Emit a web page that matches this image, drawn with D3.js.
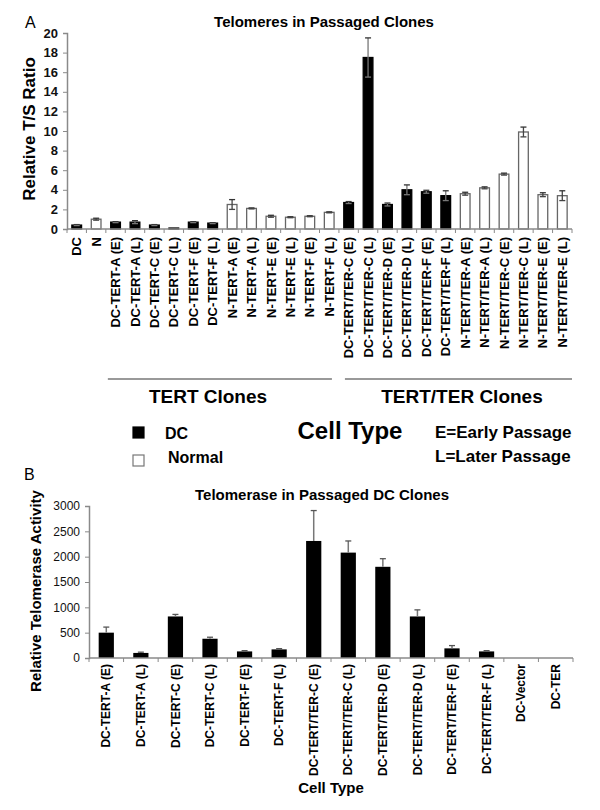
<!DOCTYPE html>
<html>
<head>
<meta charset="utf-8">
<script src="https://cdn.jsdelivr.net/npm/d3@7"></script>
<style>
  body { margin: 0; background: #fff; }
  svg { font-family: "Liberation Sans", Arial, sans-serif; display: block; }
</style>
</head>
<body>
<svg id="chart" width="600" height="810"></svg>
<script>
// panel A data - telomere T/S ratio
var catsA = ['DC', 'N', 'DC-TERT-A (E)', 'DC-TERT-A (L)', 'DC-TERT-C (E)', 'DC-TERT-C (L)',
    'DC-TERT-F (E)', 'DC-TERT-F (L)', 'N-TERT-A (E)', 'N-TERT-A (L)', 'N-TERT-E (E)', 'N-TERT-E (L)',
    'N-TERT-F (E)', 'N-TERT-F (L)', 'DC-TERT/TER-C (E)', 'DC-TERT/TER-C (L)', 'DC-TERT/TER-D (E)',
    'DC-TERT/TER-D (L)', 'DC-TERT/TER-F (E)', 'DC-TERT/TER-F (L)', 'N-TERT/TER-A (E)', 'N-TERT/TER-A (L)',
    'N-TERT/TER-C (E)', 'N-TERT/TER-C (L)', 'N-TERT/TER-E (E)', 'N-TERT/TER-E (L)'];
var typeA = ['DC', 'N', 'DC', 'DC', 'DC', 'DC', 'DC', 'DC', 'N', 'N', 'N', 'N', 'N', 'N',
    'DC', 'DC', 'DC', 'DC', 'DC', 'DC', 'N', 'N', 'N', 'N', 'N', 'N'];
var valsA = [0.4, 1.0, 0.7, 0.7, 0.4, 0.1, 0.7, 0.6, 2.5, 2.1, 1.3, 1.2, 1.3, 1.7,
    2.7, 17.5, 2.5, 4.0, 3.8, 3.4, 3.6, 4.2, 5.6, 9.9, 3.5, 3.4];
var errA = [0.05, 0.1, 0.05, 0.15, 0.05, 0.02, 0.05, 0.05, 0.5, 0.05, 0.1, 0.05, 0.05, 0.05,
    0.1, 2.0, 0.15, 0.5, 0.15, 0.5, 0.15, 0.1, 0.1, 0.5, 0.2, 0.5];
var ticksA = [0, 2, 4, 6, 8, 10, 12, 14, 16, 18, 20];
var groupsA = [
    {name: 'TERT Clones', from: 'DC-TERT-A (E)', to: 'N-TERT-F (L)'},
    {name: 'TERT/TER Clones', from: 'DC-TERT/TER-C (E)', to: 'N-TERT/TER-E (L)'}
];

// panel B data - telomerase activity
var catsB = ['DC-TERT-A (E)', 'DC-TERT-A (L)', 'DC-TERT-C (E)', 'DC-TERT-C (L)', 'DC-TERT-F (E)',
    'DC-TERT-F (L)', 'DC-TERT/TER-C (E)', 'DC-TERT/TER-C (L)', 'DC-TERT/TER-D (E)', 'DC-TERT/TER-D (L)',
    'DC-TERT/TER-F (E)', 'DC-TERT/TER-F (L)', 'DC-Vector', 'DC-TER'];
var valsB = [500, 100, 820, 380, 130, 170, 2310, 2080, 1800, 820, 190, 130, 0, 0];
var errB = [110, 15, 40, 30, 15, 15, 600, 230, 160, 130, 55, 15, 0, 0];
var ticksB = [0, 500, 1000, 1500, 2000, 2500, 3000];

var svg = d3.select('#chart');
var axisColor = '#8a8a8a';

// ---------- Panel A ----------
var a = {left: 67, right: 572, top: 33, bottom: 229};
var xA = d3.scaleBand().domain(catsA).range([a.left, a.right]).paddingInner(0.5).paddingOuter(0.25);
var yA = d3.scaleLinear().domain([0, 20]).range([a.bottom, a.top]);

var dataA = catsA.map(function(c, i) { return {cat: c, type: typeA[i], v: valsA[i], e: errA[i]}; });

svg.append('text')
    .attr('x', 25).attr('y', 28)
    .style('font-size', '16px')
    .text('A');

svg.append('text')
    .attr('x', 324).attr('y', 27)
    .attr('text-anchor', 'middle')
    .style('font-size', '15px').style('font-weight', 'bold')
    .text('Telomeres in Passaged Clones');

svg.append('text')
    .attr('transform', 'translate(35,' + ((a.top + a.bottom) / 2 - 2) + ')rotate(-90)')
    .attr('text-anchor', 'middle')
    .style('font-size', '17px').style('font-weight', 'bold')
    .text('Relative T/S Ratio');

// y axis
var gyA = svg.append('g')
    .attr('transform', 'translate(' + a.left + ',0)')
    .call(d3.axisLeft(yA).tickValues(ticksA).tickSize(4).tickPadding(5));
gyA.select('.domain').attr('stroke', axisColor).attr('stroke-width', 1.5);
gyA.selectAll('.tick line').attr('stroke', axisColor);
gyA.selectAll('.tick text')
    .attr('fill', '#111')
    .style('font-size', '13px').style('font-weight', 'bold').style('font-family', 'Liberation Sans, Arial, sans-serif');

// bars
svg.selectAll('.barA')
    .data(dataA)
    .enter()
    .append('rect')
    .attr('class', 'barA')
    .attr('x', function(d) { return xA(d.cat); })
    .attr('y', function(d) { return yA(d.v); })
    .attr('width', xA.bandwidth())
    .attr('height', function(d) { return a.bottom - yA(d.v); })
    .style('fill', function(d) { return d.type === 'DC' ? '#000' : '#fff'; })
    .style('stroke', function(d) { return d.type === 'DC' ? '#000' : '#666'; })
    .style('stroke-width', 1.3);

// error bars (up and down)
var errGA = svg.selectAll('.errA')
    .data(dataA.filter(function(d) { return d.e > 0.04; }))
    .enter()
    .append('g')
    .attr('class', 'errA')
    .style('stroke', function(d) { return d.type === 'DC' ? '#777' : '#444'; })
    .style('stroke-width', 1.3);
errGA.append('line')
    .attr('x1', function(d) { return xA(d.cat) + xA.bandwidth() / 2; })
    .attr('x2', function(d) { return xA(d.cat) + xA.bandwidth() / 2; })
    .attr('y1', function(d) { return yA(d.v - d.e); })
    .attr('y2', function(d) { return yA(d.v + d.e); });
errGA.append('line')
    .attr('x1', function(d) { return xA(d.cat) + xA.bandwidth() / 2 - 3; })
    .attr('x2', function(d) { return xA(d.cat) + xA.bandwidth() / 2 + 3; })
    .attr('y1', function(d) { return yA(d.v + d.e); })
    .attr('y2', function(d) { return yA(d.v + d.e); })
    .style('stroke', '#333');
errGA.append('line')
    .attr('x1', function(d) { return xA(d.cat) + xA.bandwidth() / 2 - 3; })
    .attr('x2', function(d) { return xA(d.cat) + xA.bandwidth() / 2 + 3; })
    .attr('y1', function(d) { return yA(d.v - d.e); })
    .attr('y2', function(d) { return yA(d.v - d.e); });

// x axis line + boundary ticks
svg.append('line')
    .attr('x1', a.left).attr('x2', a.right)
    .attr('y1', a.bottom).attr('y2', a.bottom)
    .attr('stroke', axisColor).attr('stroke-width', 1.5);
var boundsA = catsA.map(function(c) { return xA(c) + xA.bandwidth() / 2 - xA.step() / 2; });
boundsA.push(a.right);
svg.selectAll('.tickA')
    .data(boundsA)
    .enter()
    .append('line')
    .attr('x1', function(d) { return d; }).attr('x2', function(d) { return d; })
    .attr('y1', a.bottom).attr('y2', a.bottom + 4)
    .attr('stroke', axisColor);

svg.selectAll('.labA')
    .data(catsA)
    .enter()
    .append('text')
    .attr('transform', function(d) { return 'translate(' + (xA(d) + xA.bandwidth() / 2) + ',' + (a.bottom + 8) + ')rotate(-90)'; })
    .attr('dy', '0.35em')
    .attr('text-anchor', 'end')
    .style('font-size', '13px').style('font-weight', 'bold')
    .text(function(d) { return d; });

// clone group lines
groupsA.forEach(function(g, i) {
    var x1 = xA(g.from) + xA.bandwidth() / 2 - xA.step() / 2 + (i === 0 ? 2 : 6);
    var x2 = i === 0 ? xA(g.to) + xA.bandwidth() / 2 + xA.step() / 2 - 7 : a.right;
    svg.append('line')
        .attr('x1', x1).attr('x2', x2)
        .attr('y1', 379).attr('y2', 379)
        .attr('stroke', '#999').attr('stroke-width', 2);
    svg.append('text')
        .attr('x', i === 0 ? 208 : 462).attr('y', 403)
        .attr('text-anchor', 'middle')
        .style('font-size', '19px').style('font-weight', 'bold')
        .text(g.name);
});

// legend
var legend = [{name: 'DC', fill: '#000', stroke: '#000'}, {name: 'Normal', fill: '#fff', stroke: '#777'}];
var lg = svg.selectAll('.legend')
    .data(legend)
    .enter()
    .append('g')
    .attr('class', 'legend')
    .attr('transform', function(d, i) { return 'translate(133,' + (427 + i * 28) + ')'; });
lg.append('rect')
    .attr('width', 11).attr('height', 11)
    .style('fill', function(d) { return d.fill; })
    .style('stroke', function(d) { return d.stroke; })
    .style('stroke-width', 1.2);
lg.append('text')
    .attr('x', function(d, i) { return i === 0 ? 32 : 35; })
    .attr('y', function(d, i) { return i === 0 ? 12 : 8; })
    .style('font-size', '16px').style('font-weight', 'bold')
    .text(function(d) { return d.name; });

svg.append('text')
    .attr('x', 350).attr('y', 439)
    .attr('text-anchor', 'middle')
    .style('font-size', '24px').style('font-weight', 'bold')
    .text('Cell Type');
svg.append('text')
    .attr('x', 435).attr('y', 438)
    .style('font-size', '17px').style('font-weight', 'bold')
    .text('E=Early Passage');
svg.append('text')
    .attr('x', 435).attr('y', 462)
    .style('font-size', '17px').style('font-weight', 'bold')
    .text('L=Later Passage');

// ---------- Panel B ----------
var b = {left: 89, right: 573, top: 506, bottom: 658};
var xB = d3.scaleBand().domain(catsB).range([b.left, b.right]).paddingInner(0.56).paddingOuter(0.28);
var yB = d3.scaleLinear().domain([0, 3000]).range([b.bottom, b.top]);
var dataB = catsB.map(function(c, i) { return {cat: c, v: valsB[i], e: errB[i]}; });

svg.append('text')
    .attr('x', 24).attr('y', 480)
    .style('font-size', '16px')
    .text('B');

svg.append('text')
    .attr('x', 322).attr('y', 500)
    .attr('text-anchor', 'middle')
    .style('font-size', '15px').style('font-weight', 'bold')
    .text('Telomerase in Passaged DC Clones');

svg.append('text')
    .attr('transform', 'translate(41,591)rotate(-90)')
    .attr('text-anchor', 'middle')
    .style('font-size', '15px').style('font-weight', 'bold')
    .text('Relative Telomerase Activity');

var gyB = svg.append('g')
    .attr('transform', 'translate(' + b.left + ',0)')
    .call(d3.axisLeft(yB).tickValues(ticksB).tickFormat(d3.format('d')).tickSize(4).tickPadding(5));
gyB.select('.domain').attr('stroke', axisColor).attr('stroke-width', 1.5);
gyB.selectAll('.tick line').attr('stroke', axisColor);
gyB.selectAll('.tick text')
    .attr('fill', '#111')
    .style('font-size', '12px').style('font-family', 'Liberation Sans, Arial, sans-serif');

svg.selectAll('.barB')
    .data(dataB)
    .enter()
    .append('rect')
    .attr('class', 'barB')
    .attr('x', function(d) { return xB(d.cat); })
    .attr('y', function(d) { return yB(d.v); })
    .attr('width', xB.bandwidth())
    .attr('height', function(d) { return b.bottom - yB(d.v); })
    .style('fill', '#000');

var errGB = svg.selectAll('.errB')
    .data(dataB.filter(function(d) { return d.e > 0; }))
    .enter()
    .append('g')
    .attr('class', 'errB');
errGB.append('line')
    .attr('x1', function(d) { return xB(d.cat) + xB.bandwidth() / 2; })
    .attr('x2', function(d) { return xB(d.cat) + xB.bandwidth() / 2; })
    .attr('y1', function(d) { return yB(d.v); })
    .attr('y2', function(d) { return yB(d.v + d.e); })
    .style('stroke', '#777').style('stroke-width', 1.5);
errGB.append('line')
    .attr('x1', function(d) { return xB(d.cat) + xB.bandwidth() / 2 - 3; })
    .attr('x2', function(d) { return xB(d.cat) + xB.bandwidth() / 2 + 3; })
    .attr('y1', function(d) { return yB(d.v + d.e); })
    .attr('y2', function(d) { return yB(d.v + d.e); })
    .style('stroke', '#555').style('stroke-width', 1.3);

svg.append('line')
    .attr('x1', b.left).attr('x2', b.right)
    .attr('y1', b.bottom).attr('y2', b.bottom)
    .attr('stroke', axisColor).attr('stroke-width', 1.5);
var boundsB = catsB.map(function(c) { return xB(c) + xB.bandwidth() / 2 - xB.step() / 2; });
boundsB.push(b.right);
svg.selectAll('.tickB')
    .data(boundsB)
    .enter()
    .append('line')
    .attr('x1', function(d) { return d; }).attr('x2', function(d) { return d; })
    .attr('y1', b.bottom).attr('y2', b.bottom + 4)
    .attr('stroke', axisColor);

svg.selectAll('.labB')
    .data(catsB)
    .enter()
    .append('text')
    .attr('transform', function(d) { return 'translate(' + (xB(d) + xB.bandwidth() / 2) + ',' + (b.bottom + 6) + ')rotate(-90)'; })
    .attr('dy', '0.35em')
    .attr('text-anchor', 'end')
    .style('font-size', '12px').style('font-weight', 'bold')
    .text(function(d) { return d; });

svg.append('text')
    .attr('x', 331).attr('y', 793)
    .attr('text-anchor', 'middle')
    .style('font-size', '15px').style('font-weight', 'bold')
    .text('Cell Type');
</script>
</body>
</html>
